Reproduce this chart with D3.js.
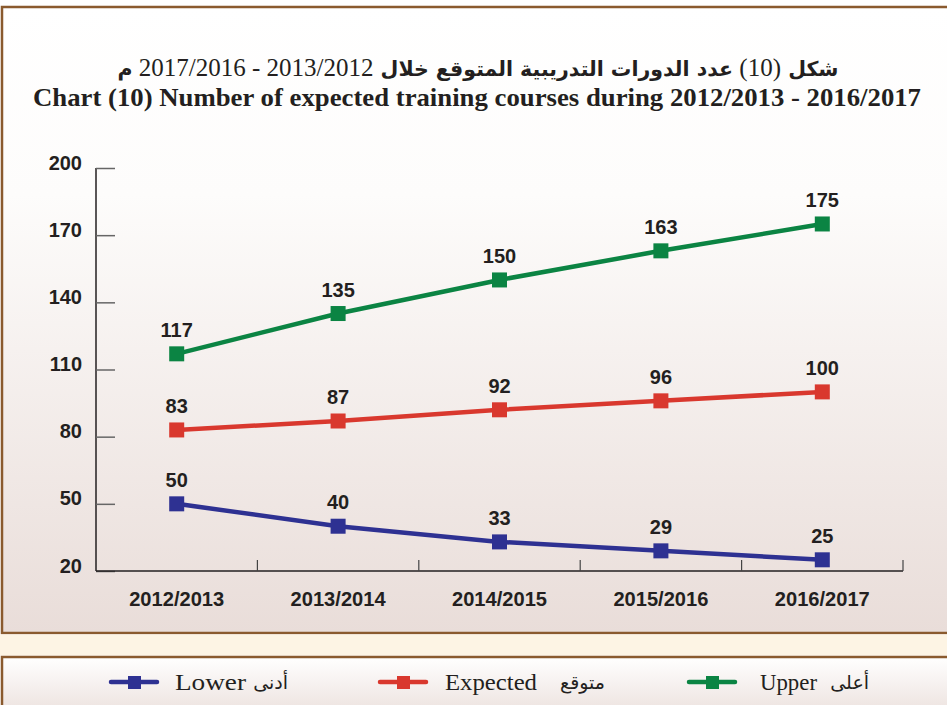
<!DOCTYPE html>
<html>
<head>
<meta charset="utf-8">
<script src="https://cdn.jsdelivr.net/npm/d3@7"></script>
<style>
  body { margin: 0; background: #fff; }
  svg { display: block; }
</style>
</head>
<body>
<svg id="chart"></svg>
<script>
// Chart (10) expected training courses
const years = ["2012/2013", "2013/2014", "2014/2015", "2015/2016", "2016/2017"];
const upper = [117, 135, 150, 163, 175];
const expected = [83, 87, 92, 96, 100];
const lower = [50, 40, 33, 29, 25];
const yTicks = [20, 50, 80, 110, 140, 170, 200];

const series = [
  { name: "Upper", ar: "أعلى", values: upper, color: "#0b8443" },
  { name: "Expected", ar: "متوقع", values: expected, color: "#d9382e" },
  { name: "Lower", ar: "أدنى", values: lower, color: "#2e3192" }
];

const W = 947, H = 705;
const svg = d3.select("#chart").attr("width", W).attr("height", H);

const defs = svg.append("defs");
const grad = defs.append("linearGradient").attr("id", "panelGrad")
  .attr("x1", 0).attr("y1", 0).attr("x2", 0).attr("y2", 1);
grad.append("stop").attr("offset", "0%").attr("stop-color", "#ffffff");
grad.append("stop").attr("offset", "30%").attr("stop-color", "#fdfcfb");
grad.append("stop").attr("offset", "100%").attr("stop-color", "#e9ddd9");

const legGrad = defs.append("linearGradient").attr("id", "legGrad")
  .attr("x1", 0).attr("y1", 0).attr("x2", 0).attr("y2", 1);
legGrad.append("stop").attr("offset", "0%").attr("stop-color", "#ffffff");
legGrad.append("stop").attr("offset", "100%").attr("stop-color", "#ebe0dc");

// panels
svg.append("rect").attr("x", 2).attr("y", 7).attr("width", 960).attr("height", 626)
  .attr("fill", "url(#panelGrad)").attr("stroke", "#8a5a2e").attr("stroke-width", 2.5);
svg.append("rect").attr("x", 0).attr("y", 634.5).attr("width", W).attr("height", 21)
  .attr("fill", "#fdf4e4");
svg.append("rect").attr("x", 2).attr("y", 657).attr("width", 960).attr("height", 60)
  .attr("fill", "url(#legGrad)").attr("stroke", "#8a5a2e").attr("stroke-width", 2.5);

// titles
const arBold = t => t.attr("font-family", "'DejaVu Sans'").attr("font-weight", "bold").attr("font-size", 20.5);
const arTitle = svg.append("text")
  .attr("x", 478).attr("y", 76)
  .attr("text-anchor", "middle")
  .attr("direction", "rtl")
  .attr("font-family", "'Liberation Serif', 'DejaVu Sans', serif")
  .attr("font-size", 25)
  .attr("fill", "#231f20");
arBold(arTitle.append("tspan")).text("شكل ");
arTitle.append("tspan").text("(10) ");
arBold(arTitle.append("tspan")).text("عدد الدورات التدريبية المتوقع  خلال ");
arTitle.append("tspan").text("2013/2012 - 2017/2016 ");
arBold(arTitle.append("tspan")).text("م");

svg.append("text")
  .attr("x", 477).attr("y", 106)
  .attr("text-anchor", "middle")
  .attr("font-family", "'Liberation Serif', serif")
  .attr("font-weight", "bold")
  .attr("font-size", 25)
  .attr("textLength", 888).attr("lengthAdjust", "spacingAndGlyphs")
  .attr("fill", "#231f20")
  .text("Chart (10) Number of expected training courses during  2012/2013 - 2016/2017");

// scales
const x = d3.scaleBand().domain(years).range([96, 903]);
const y = d3.scaleLinear().domain([20, 200]).range([571, 168]);

// y axis
const yAxis = svg.append("g").attr("transform", "translate(96,0)")
  .call(d3.axisRight(y).tickValues(yTicks).tickSize(19).tickFormat(""));
yAxis.select(".domain").attr("stroke", "#231f20").attr("stroke-width", 1.5).attr("d", "M0,168V571");
yAxis.selectAll(".tick line").attr("stroke", "#666").attr("stroke-width", 1.5);

svg.append("g").selectAll("text").data(yTicks).join("text")
  .attr("x", 82).attr("y", d => y(d) + 1.5)
  .attr("text-anchor", "end")
  .attr("font-family", "'Liberation Sans', Arial, sans-serif")
  .attr("font-weight", "bold").attr("font-size", 20)
  .attr("fill", "#231f20")
  .text(d => d);

// x axis
const xAxis = svg.append("g").attr("transform", "translate(0,571)")
  .call(d3.axisTop(x).tickSize(0).tickFormat(""));
xAxis.select(".domain").attr("stroke", "#231f20").attr("stroke-width", 1.5).attr("d", "M96,0H903");
xAxis.selectAll(".tick").remove();
svg.append("g").selectAll("line").data(years).join("line")
  .attr("x1", d => x(d) + x.bandwidth()).attr("x2", d => x(d) + x.bandwidth())
  .attr("y1", 571).attr("y2", 560)
  .attr("stroke", "#444").attr("stroke-width", 1.2);

svg.append("g").selectAll("text").data(years).join("text")
  .attr("x", d => x(d) + x.bandwidth() / 2).attr("y", 606)
  .attr("text-anchor", "middle")
  .attr("font-family", "'Liberation Sans', sans-serif")
  .attr("font-weight", "bold").attr("font-size", 20)
  .attr("textLength", 95).attr("lengthAdjust", "spacingAndGlyphs")
  .attr("fill", "#231f20")
  .text(d => d);

// lines
const cx = d => x(d) + x.bandwidth() / 2;
const line = d3.line().x((v, i) => cx(years[i])).y(v => y(v));

series.forEach(s => {
  const g = svg.append("g");
  g.append("path").datum(s.values).attr("d", line)
    .attr("fill", "none").attr("stroke", s.color).attr("stroke-width", 4.5);
  g.selectAll("rect").data(s.values).join("rect")
    .attr("x", (v, i) => cx(years[i]) - 7.5).attr("y", v => y(v) - 7.5)
    .attr("width", 15).attr("height", 15).attr("fill", s.color);
  g.selectAll("text").data(s.values).join("text")
    .attr("x", (v, i) => cx(years[i])).attr("y", v => y(v) - 17)
    .attr("text-anchor", "middle")
    .attr("font-family", "'Liberation Sans', Arial, sans-serif")
    .attr("font-weight", "bold").attr("font-size", 20)
    .attr("fill", "#231f20")
    .text(v => v);
});

// legend
const legendPos = {
  Lower: { line: 111, en: 175, enW: 71, ar: 288 },
  Expected: { line: 380, en: 445, enW: 92, ar: 605 },
  Upper: { line: 689, en: 760, enW: 57, ar: 869 }
};
series.forEach(s => {
  const p = legendPos[s.name];
  const g = svg.append("g");
  g.append("line").attr("x1", p.line).attr("x2", p.line + 46).attr("y1", 682).attr("y2", 682)
    .attr("stroke", s.color).attr("stroke-width", 4.5).attr("stroke-linecap", "round");
  g.append("rect").attr("x", p.line + 17).attr("y", 676).attr("width", 13).attr("height", 13).attr("fill", s.color);
  g.append("text").attr("x", p.en).attr("y", 690)
    .attr("font-family", "'Liberation Serif', serif").attr("font-size", 24)
    .attr("textLength", p.enW).attr("lengthAdjust", "spacingAndGlyphs")
    .attr("fill", "#231f20").text(s.name);
  g.append("text").attr("x", p.ar).attr("y", 689)
    .attr("text-anchor", "start").attr("direction", "rtl")
    .attr("font-family", "'DejaVu Sans', sans-serif").attr("font-size", 19)
    .attr("fill", "#231f20").text(s.ar);
});
</script>
</body>
</html>
